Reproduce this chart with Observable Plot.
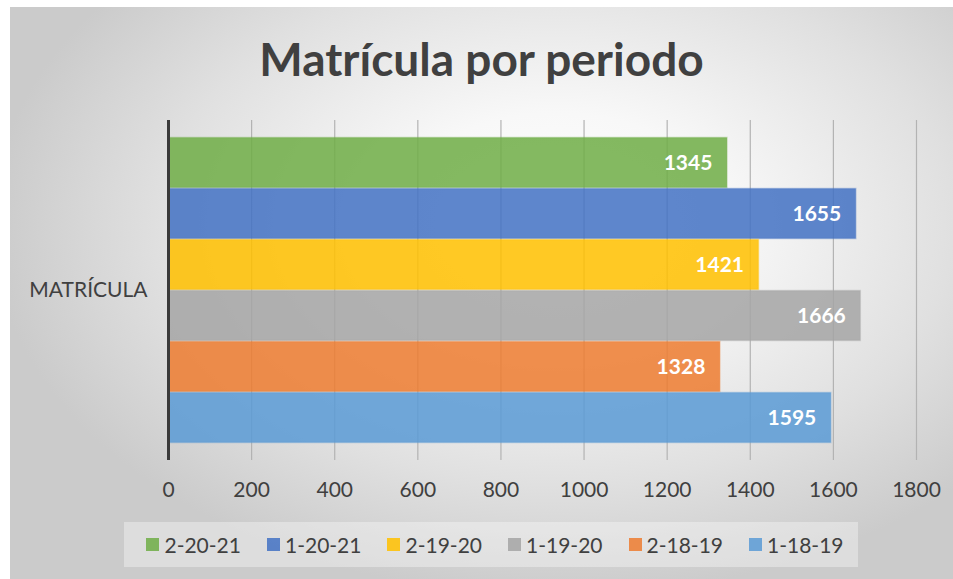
<!DOCTYPE html>
<html>
<head>
<meta charset="utf-8">
<script src="https://cdn.jsdelivr.net/npm/d3@7"></script>
<script src="https://cdn.jsdelivr.net/npm/@observablehq/plot@0.6"></script>
<style>
  html, body { margin: 0; padding: 0; background: #ffffff; }
  #page { position: relative; width: 953px; height: 579px; overflow: hidden; font-family: Lato, "Open Sans", sans-serif; }
  #bg { position: absolute; left: 10px; top: 7px; width: 943px; height: 572px;
        background: radial-gradient(ellipse 60% 65% at 58% 38%, #ffffff 0%, #f8f8f8 30%, #e0e0e0 70%, #cbcbcb 100%); }
  #title { position: absolute; left: 10px; width: 943px; top: 31px; text-align: center;
           font-size: 46px; font-weight: 700; color: #404040; letter-spacing: 0px; }
  #chart { position: absolute; left: 0; top: 0; }
  #legend { position: absolute; left: 124px; top: 522px; width: 734px; height: 45px;
            background: rgba(255,255,255,0.35); display: flex; align-items: center; justify-content: center; gap: 26px; padding-left: 8px; box-sizing: border-box; }
  .item { display: flex; align-items: center; font-size: 21px; color: #404040; }
  .sw { width: 13px; height: 13px; margin-right: 5px; box-sizing: border-box; }
</style>
</head>
<body>
<div id="page">
  <div id="bg"></div>
  <div id="title">Matrícula por periodo</div>
  <div id="chart"></div>
  <div id="legend"></div>
</div>
<script>
const category = "MATRÍCULA";
const periods = ["2-20-21", "1-20-21", "2-19-20", "1-19-20", "2-18-19", "1-18-19"];
const values = [1345, 1655, 1421, 1666, 1328, 1595];
const colors = ["#70AD47", "#4472C4", "#FFC000", "#A5A5A5", "#ED7D31", "#5B9BD5"];
const xTicks = [0, 200, 400, 600, 800, 1000, 1200, 1400, 1600, 1800];

const data = periods.map((p, i) => ({cat: category, period: p, value: values[i]}));

const plot = Plot.plot({
  width: 953,
  height: 579,
  marginLeft: 168,
  marginRight: 37,
  marginTop: 120,
  marginBottom: 119,
  style: {background: "transparent", fontFamily: "Lato, 'Open Sans', sans-serif", color: "#404040"},
  x: {domain: [0, 1800], ticks: xTicks, tickFormat: d => String(d)},
  fy: {padding: 0, label: null},
  y: {domain: periods, paddingInner: 0, paddingOuter: 0.32, axis: null},
  color: {domain: periods, range: colors},
  marks: [
    Plot.ruleX(xTicks.filter(d => d > 0), {stroke: "#b3b3b3", strokeWidth: 1.2}),
    Plot.barX(data, {x: "value", y: "period", fy: "cat", fill: "period", fillOpacity: 0.86,
                     stroke: "period", strokeOpacity: 0.35, strokeWidth: 1.5, insetTop: 0.5, insetBottom: 0.5}),
    Plot.text(data, {x: "value", y: "period", fy: "cat", text: d => String(d.value), dx: -15,
                     textAnchor: "end", fill: "white", fontWeight: "bold", fontSize: 21}),
    Plot.ruleX([0], {stroke: "#3a3a3a", strokeWidth: 3}),
    Plot.axisX({ticks: xTicks, tickFormat: d => String(d), tickSize: 0, tickPadding: 22, fontSize: 21, label: null, fill: "#404040"}),
    Plot.axisFy({anchor: "left", tickSize: 0, tickPadding: 21, fontSize: 21, label: null, fill: "#404040"})
  ]
});
document.getElementById("chart").appendChild(plot);

const legend = document.getElementById("legend");
periods.forEach((p, i) => {
  const it = document.createElement("div");
  it.className = "item";
  const sw = document.createElement("span");
  sw.className = "sw";
  sw.style.background = colors[i];
  sw.style.opacity = 0.86;
  it.appendChild(sw);
  const t = document.createElement("span");
  t.textContent = p;
  it.appendChild(t);
  legend.appendChild(it);
});
</script>
</body>
</html>
